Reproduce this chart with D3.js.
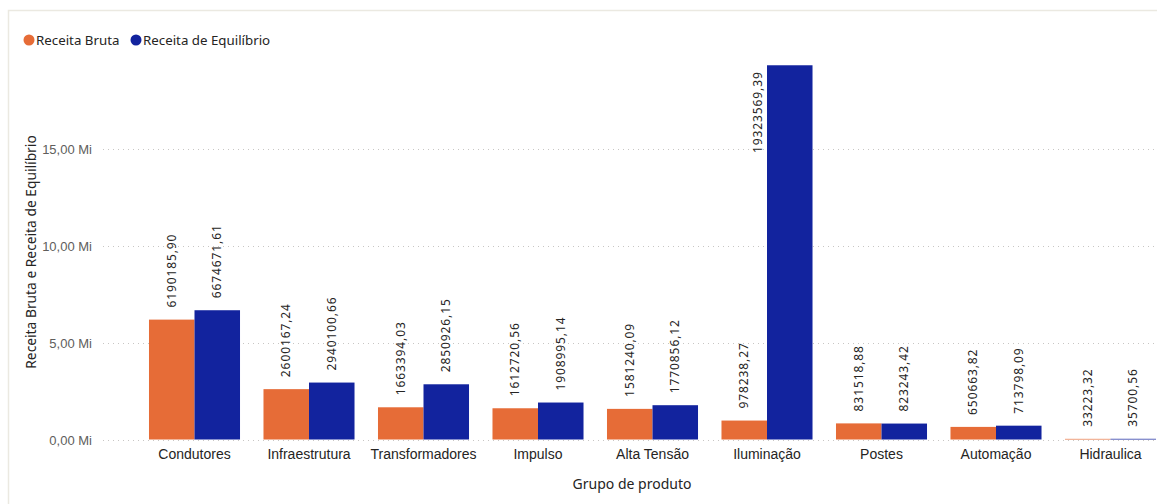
<!DOCTYPE html>
<html>
<head>
<meta charset="utf-8">
<script src="https://cdn.jsdelivr.net/npm/d3@7"></script>
<style>
  body { margin: 0; background: #fff; }
  svg { display: block; font-family: "Segoe UI", "Noto Sans", "Open Sans", sans-serif; }
</style>
</head>
<body>
<svg id="chart" width="1157" height="504"></svg>
<script>
const categories = ["Condutores", "Infraestrutura", "Transformadores", "Impulso", "Alta Tensão", "Iluminação", "Postes", "Automação", "Hidraulica"];
const receitaBruta = [6190185.90, 2600167.24, 1663394.03, 1612720.56, 1581240.09, 978238.27, 831518.88, 650663.82, 33223.32];
const receitaEquilibrio = [6674671.61, 2940100.66, 2850926.15, 1908995.14, 1770856.12, 19323569.39, 823243.42, 713798.09, 35700.56];
const seriesNames = ["Receita Bruta", "Receita de Equilíbrio"];
const yTicks = [0, 5e6, 10e6, 15e6];
const yTickLabels = ["0,00 Mi", "5,00 Mi", "10,00 Mi", "15,00 Mi"];

const colors = ["#E66C37", "#12239E"];
const svg = d3.select("#chart");

// frame
svg.append("path").attr("d", "M8.5,504 V10.5 H1157")
  .attr("fill", "none").attr("stroke", "#ebe9e1").attr("stroke-width", 1.5);

const x0 = d3.scaleBand().domain(categories).range([137.25, 1167.75]).paddingInner(0.205).paddingOuter(0.1025);
const x1 = d3.scaleBand().domain(seriesNames).range([0, x0.bandwidth()]);
const y = d3.scaleLinear().domain([0, 15e6]).range([439.5, 149]);

// gridlines
const grid = svg.append("g");
grid.selectAll("line").data(yTicks).join("line")
  .attr("x1", 103).attr("x2", 1157)
  .attr("y1", d => Math.round(y(d)) + 0.5).attr("y2", d => Math.round(y(d)) + 0.5)
  .attr("stroke", "#c8c6c4").attr("stroke-width", 1).attr("stroke-dasharray", "1,4");

// y axis
const yAxis = d3.axisLeft(y).tickValues(yTicks).tickFormat((d, i) => yTickLabels[i]).tickSize(0).tickPadding(0);
const gy = svg.append("g").attr("transform", "translate(92,0)").call(yAxis);
gy.select(".domain").remove();
gy.selectAll("text").attr("fill", "#605E5C").style("font-size", "13px").attr("dy", "0.35em");

// y title
svg.append("text").attr("transform", "translate(36,252) rotate(-90)")
  .attr("text-anchor", "middle").attr("fill", "#252423").style("font-size", "13.8px")
  .text("Receita Bruta e Receita de Equilíbrio");

// x axis
const xAxis = d3.axisBottom(x0).tickSize(0).tickPadding(0);
const gx = svg.append("g").attr("transform", "translate(0,446)").call(xAxis);
gx.select(".domain").remove();
gx.selectAll("text").attr("fill", "#252423").style("font-size", "14px").attr("dy", "0.9em");

svg.append("text").attr("x", 632).attr("y", 489).attr("text-anchor", "middle")
  .attr("fill", "#252423").style("font-size", "14px").text("Grupo de produto");

// bars
const rows = categories.map((c, i) => ({ cat: c, vals: [receitaBruta[i], receitaEquilibrio[i]] }));
const fmt = v => d3.format(".2f")(v).replace(".", ",");
const plotTop = 64;

const groups = svg.append("g").selectAll("g").data(rows).join("g")
  .attr("transform", d => `translate(${x0(d.cat)},0)`);

groups.selectAll("rect").data(d => d.vals.map((v, j) => ({ v, s: seriesNames[j], j }))).join("rect")
  .attr("x", d => x1(d.s)).attr("width", x1.bandwidth())
  .attr("y", d => y(d.v)).attr("height", d => y(0) - y(d.v))
  .attr("fill", d => colors[d.j]);

// labels
groups.selectAll("text.lbl").data(d => d.vals.map((v, j) => ({ v, s: seriesNames[j], j }))).join("text")
  .attr("class", "lbl")
  .each(function (d) {
    const t = d3.select(this);
    let cx = x1(d.s) + x1.bandwidth() / 2;
    let yEnd = y(d.v) - 12;
    let anchor = "start";
    if (y(d.v) - 12 - 82 < plotTop) {
      // no room above: place beside the bar, aligned to the top
      cx = x1(d.s) - 9;
      yEnd = y(d.v) + 6;
      anchor = "end";
    }
    t.attr("transform", `translate(${cx},${yEnd}) rotate(-90)`)
      .attr("text-anchor", anchor)
      .attr("dy", "0.35em");
  })
  .attr("fill", "#252423").style("font-size", "12px").style("letter-spacing", "0.9px")
  .text(d => fmt(d.v));

// legend
const leg = svg.append("g").attr("transform", "translate(0,40)");
const legX = [29, 136];
seriesNames.forEach((n, i) => {
  leg.append("circle").attr("cx", legX[i]).attr("cy", 0).attr("r", 5.5).attr("fill", colors[i]);
  leg.append("text").attr("x", legX[i] + 7).attr("y", 0).attr("dy", "0.35em")
    .attr("fill", "#252423").style("font-size", "13.3px").text(n);
});
</script>
</body>
</html>
